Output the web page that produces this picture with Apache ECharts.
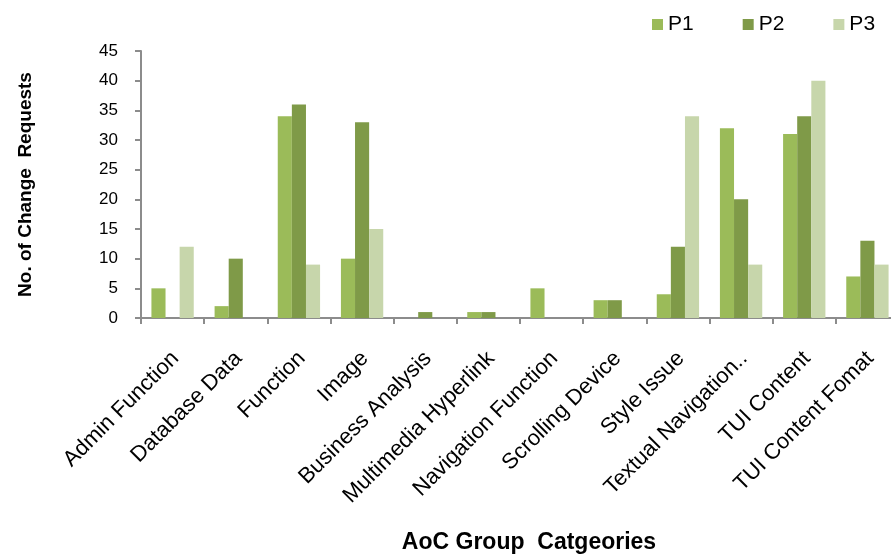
<!DOCTYPE html>
<html>
<head>
<meta charset="utf-8">
<script src="https://cdn.jsdelivr.net/npm/echarts@6/dist/echarts.min.js"></script>
<style>
  html, body { margin: 0; padding: 0; background: #ffffff; overflow: hidden; }
  #chart { width: 891px; height: 556px; }
</style>
</head>
<body>
<div id="chart"></div>
<script>
// AoC group categories and change-request counts per phase
const categories = [
  'Admin Function', 'Database Data', 'Function', 'Image', 'Business Analysis',
  'Multimedia Hyperlink', 'Navigation Function', 'Scrolling Device', 'Style Issue',
  'Textual Navigation..', 'TUI Content', 'TUI Content Fomat'
];
const p1 = [5, 2, 34, 10, 0, 1, 5, 3, 4, 32, 31, 7];
const p2 = [0, 10, 36, 33, 1, 1, 0, 3, 12, 20, 34, 13];
const p3 = [12, 0, 9, 15, 0, 0, 0, 0, 34, 9, 40, 9];
const yTicks = { min: 0, max: 45, step: 5 };

const font = 'Liberation Sans, Arial, sans-serif';
const axisGray = '#8c8c8c';

const chart = echarts.init(document.getElementById('chart'), null, { renderer: 'canvas' });

function barSeries(name, data, color) {
  return {
    name: name,
    type: 'bar',
    data: data,
    barGap: '0%',
    barCategoryGap: '33%',
    itemStyle: { color: color },
    emphasis: { disabled: true }
  };
}

chart.setOption({
  animation: false,
  backgroundColor: '#ffffff',
  textStyle: { fontFamily: font },
  legend: {
    left: 647,
    top: 9,
    itemWidth: 11,
    itemHeight: 11,
    itemGap: 49,
    icon: 'rect',
    textStyle: { fontSize: 21, color: '#000000', fontFamily: font },
    data: ['P1', 'P2', 'P3']
  },
  // the plot runs a little past the right edge of the page
  grid: { left: 141, right: -8, top: 51, bottom: 238, containLabel: false, outerBoundsMode: 'none' },
  xAxis: {
    type: 'category',
    data: categories,
    name: 'AoC Group  Catgeories',
    nameLocation: 'middle',
    nameGap: 213,
    nameTextStyle: { fontSize: 23, fontWeight: 'bold', color: '#000000', fontFamily: font, padding: [0, 0, 0, 18] },
    axisLine: { lineStyle: { color: axisGray, width: 2 } },
    axisTick: { show: true, alignWithLabel: false, length: 6, lineStyle: { color: axisGray, width: 2 } },
    axisLabel: {
      rotate: 45,
      interval: 0,
      margin: 40,
      fontSize: 22,
      color: '#000000',
      fontFamily: font,
      padding: [0, -4, 0, 0]
    },
    splitLine: { show: false }
  },
  yAxis: {
    type: 'value',
    min: yTicks.min,
    max: yTicks.max,
    interval: yTicks.step,
    name: 'No. of Change  Requests',
    nameLocation: 'middle',
    nameGap: 106,
    nameRotate: 90,
    nameTextStyle: { fontSize: 19, fontWeight: 'bold', color: '#000000', fontFamily: font },
    axisLine: { show: true, lineStyle: { color: axisGray, width: 2 } },
    axisTick: { show: true, length: 6, lineStyle: { color: axisGray, width: 2 } },
    axisLabel: { fontSize: 17, color: '#000000', margin: 23, fontFamily: font },
    splitLine: { show: false }
  },
  series: [
    barSeries('P1', p1, '#9bbb59'),
    barSeries('P2', p2, '#7f9a48'),
    barSeries('P3', p3, '#c7d6ab')
  ]
});
</script>
</body>
</html>
